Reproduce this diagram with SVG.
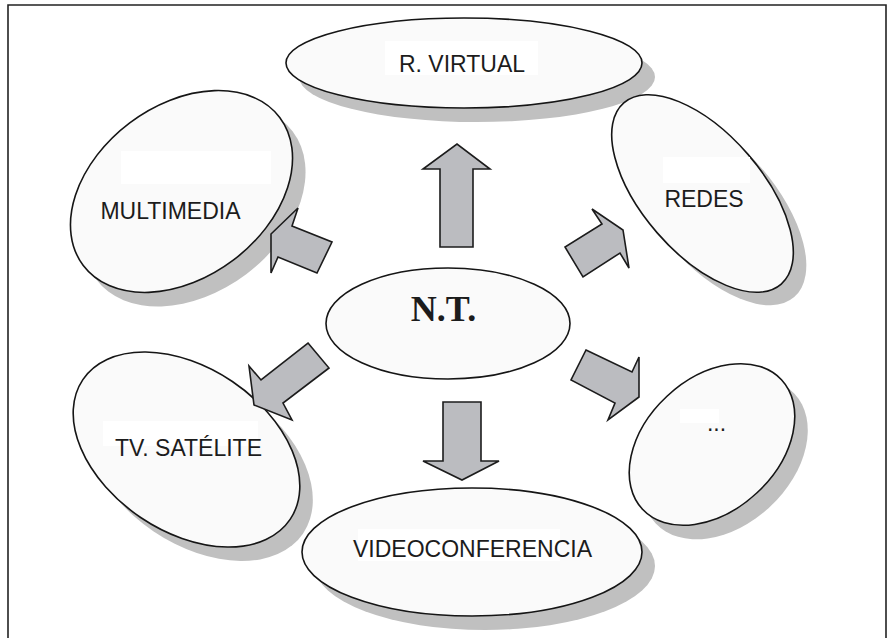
<svg xmlns="http://www.w3.org/2000/svg" width="895" height="638" viewBox="0 0 895 638">
<style>
.sh{fill:#c0c0c0;stroke:none}
.el{fill:#fafafa;stroke:#151515;stroke-width:1.6}
.box{fill:#ffffff;stroke:none}
.lbl{font-family:"Liberation Sans",Arial,sans-serif;font-size:23px;fill:#1c1c1c;text-anchor:middle}
.ttl{font-family:"Liberation Serif","Times New Roman",serif;font-size:36px;font-weight:bold;fill:#1c1c1c;text-anchor:middle}
.arr{fill:#bbbcc0;stroke:#1c1c1c;stroke-width:1.6;stroke-linejoin:miter}
.frame{fill:none;stroke:#222;stroke-width:1.6}
</style>
<rect width="895" height="638" fill="#ffffff"/>
<path class="frame" d="M8,638 V5 H886 V638"/>

<g id="rvirtual">
  <ellipse class="sh" cx="477" cy="77" rx="178" ry="45"/>
  <ellipse class="el" cx="464" cy="63" rx="178" ry="45"/>
  <rect class="box" x="385" y="41" width="153" height="34"/>
  <text class="lbl" x="462" y="72">R. VIRTUAL</text>
</g>

<g id="multimedia">
  <ellipse class="sh" rx="123" ry="86" transform="translate(194.5,205.5) rotate(-37)"/>
  <ellipse class="el" rx="123" ry="86" transform="translate(181.5,191.5) rotate(-37)"/>
  <rect class="box" x="121" y="151" width="150" height="33"/>
  <text class="lbl" x="170.5" y="219">MULTIMEDIA</text>
</g>

<g id="redes">
  <ellipse class="sh" rx="120" ry="60" transform="translate(715.5,206.5) rotate(49)"/>
  <ellipse class="el" rx="120" ry="60" transform="translate(702.5,193.5) rotate(49)"/>
  <rect class="box" x="663" y="157" width="87" height="26"/>
  <text class="lbl" x="704" y="207">REDES</text>
</g>

<g id="tvsatelite">
  <ellipse class="sh" rx="125" ry="82" transform="translate(199.5,463.5) rotate(34)"/>
  <ellipse class="el" rx="125" ry="82" transform="translate(186.5,449.5) rotate(34)"/>
  <rect class="box" x="103" y="421" width="155" height="25"/>
  <text class="lbl" x="188.5" y="456">TV. SATÉLITE</text>
</g>

<g id="etc">
  <ellipse class="sh" rx="95" ry="66" transform="translate(725,458.5) rotate(-43)"/>
  <ellipse class="el" rx="95" ry="66" transform="translate(712,444.5) rotate(-43)"/>
  <rect class="box" x="680" y="409" width="39" height="14"/>
  <text class="lbl" x="716.5" y="431">...</text>
</g>

<g id="videoconferencia">
  <ellipse class="sh" cx="485" cy="566" rx="170" ry="64"/>
  <ellipse class="el" cx="472" cy="552" rx="170" ry="64"/>
  <rect class="box" x="358" y="529" width="202" height="32"/>
  <text class="lbl" x="472.5" y="557">VIDEOCONFERENCIA</text>
</g>

<g id="nt">
  <ellipse class="el" cx="448" cy="323.5" rx="122" ry="55.5"/>
  <text class="ttl" x="443.5" y="321">N.T.</text>
</g>

<g id="connectors">
  <polygon class="arr" points="440,247 440,169 423,169 457,144 490,169 473,169 473,247"/>
  <polygon class="arr" points="443,402 481,402 481,461 499,461 462,480 423,461 443,461"/>
  <polygon class="arr" points="298,208 292,226 332,242 317,273 278,257 271,273 271,234"/>
  <polygon class="arr" points="592,209 623,230 629,268 620,253 583,277 565,247 602,224"/>
  <polygon class="arr" points="308,343 329,368 283,403 292,420 254,405 249,366 261,380"/>
  <polygon class="arr" points="586,350 632,372 639,357 639,397 608,420 615,403 571,380"/>
</g>
</svg>
